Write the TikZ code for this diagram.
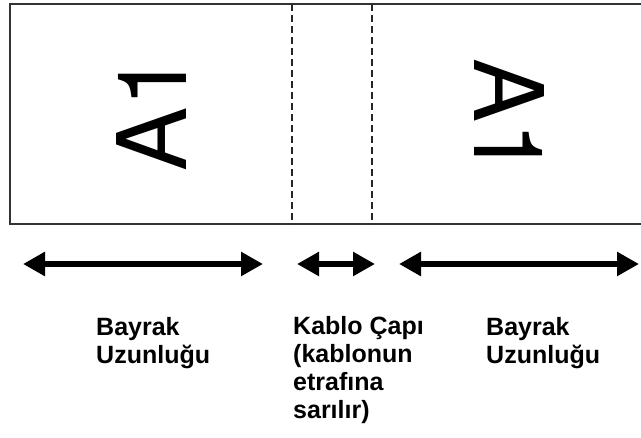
\documentclass[tikz,border=0pt]{standalone}
\usepackage{fontspec}
\setmainfont{Liberation Sans}
\newfontfamily\tagfont{TeX Gyre Heros}
\usetikzlibrary{arrows.meta,positioning}

\begin{document}
\begin{tikzpicture}[
      x=1pt, y=-1pt,
      frame/.style={draw=black!80, line width=1.8pt},
      fold/.style={draw=black!85, line width=1.2pt, dash pattern=on 7pt off 4pt},
      tag/.style={font=\tagfont\fontsize{96}{96}\selectfont, inner sep=0pt},
      span/.style={
          draw, line width=6.5pt,
          {Triangle[length=22pt,width=23pt]}-{Triangle[length=22pt,width=23pt]}
        },
      lbl/.style={
          anchor=north west, inner sep=0pt, align=left,
          font=\fontsize{25}{28}\selectfont\bfseries
        },
    ]
    \clip (0,0) rectangle (641,438);
    % label strip runs off the right edge
    \draw[frame] (10,4) rectangle (670,224);
    \coordinate (f1t) at (292,4);
    \coordinate (f1b) at (292,224);
    \coordinate (f2t) at (372,4);
    \coordinate (f2b) at (372,224);
    \draw[fold] (f1t) -- (f1b);
    \draw[fold] (f2t) -- (f2b);

    \node[tag, rotate=90] (leftA) at (152,113) {A1};
    \node[tag, rotate=-90] (rightA) at (509,117) {A1};

    \coordinate (a1l) at (23,264);
    \coordinate (a1r) at (263,264);
    \coordinate (a2l) at (297,264);
    \coordinate (a2r) at (375,264);
    \coordinate (a3l) at (399,264);
    \coordinate (a3r) at (639,264);
    \draw[span] (a1l) -- (a1r);
    \draw[span] (a2l) -- (a2r);
    \draw[span] (a3l) -- (a3r);

    \node[lbl] (lenL) at (96,317) {Bayrak\\Uzunluğu};
    \node[lbl] (dia) at (293,316) {Kablo Çapı\\(kablonun\\etrafına\\sarılır)};
    \node[lbl] (lenR) at (486,317) {Bayrak\\Uzunluğu};
  \end{tikzpicture}
\end{document}
